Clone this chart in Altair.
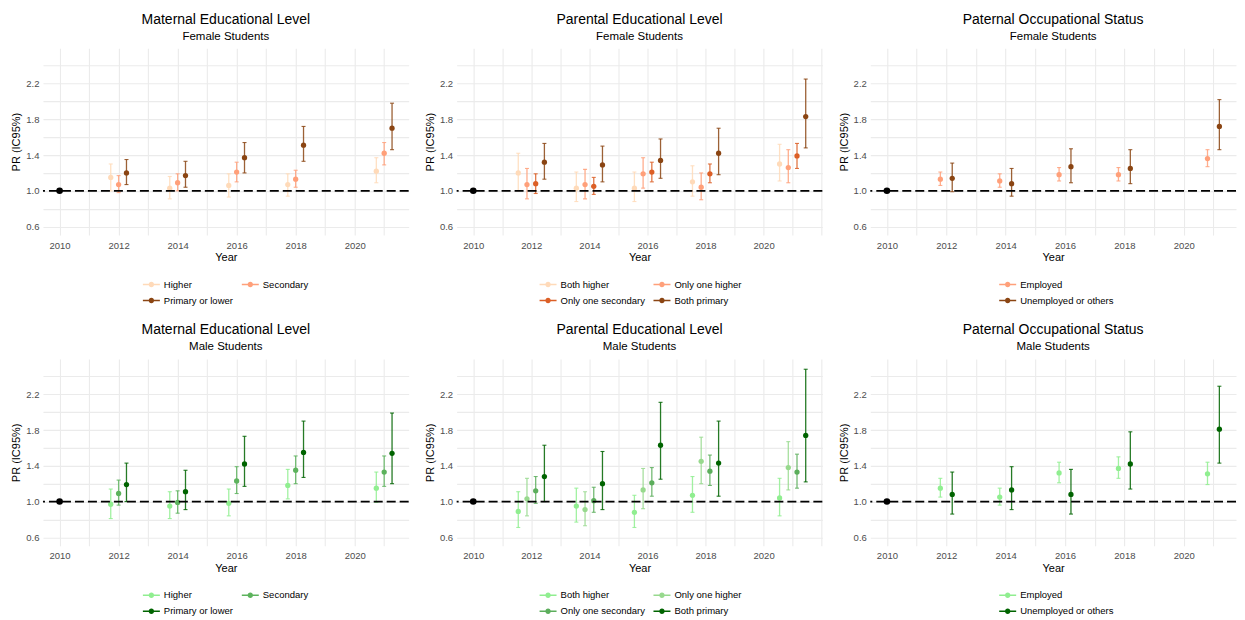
import altair as alt
import pandas as pd

FONT = "Liberation Sans"

YEARS = [2012, 2014, 2016, 2018, 2021]
REF_YEAR = [2010]
REF_PR = [1.0]

Y_GRID = [0.6, 0.8, 1.0, 1.2, 1.4, 1.6, 1.8, 2.0, 2.2, 2.4]

MAT_CATS = ["Higher", "Secondary", "Primary or lower"]
PAR_CATS = ["Both higher", "Only one higher", "Only one secondary", "Both primary"]
OCC_CATS = ["Employed", "Unemployed or others"]

MAT_F_COLORS = ["#FFDAB9", "#FFA07A", "#8B4513"]
PAR_F_COLORS = ["#FFDAB9", "#FFA07A", "#DC5F26", "#8B4513"]
OCC_F_COLORS = ["#FFA07A", "#8B4513"]
MAT_M_COLORS = ["#90EE90", "#5DB35D", "#006400"]
PAR_M_COLORS = ["#90EE90", "#98D98E", "#5CAE5C", "#006400"]
OCC_M_COLORS = ["#90EE90", "#006400"]

# ---------------- Female, maternal education
MF_HIGHER_PR = [1.15, 1.03, 1.06, 1.07, 1.22]
MF_HIGHER_LO = [1.00, 0.91, 0.93, 0.94, 1.09]
MF_HIGHER_HI = [1.30, 1.16, 1.19, 1.19, 1.37]
MF_SEC_PR = [1.07, 1.09, 1.21, 1.13, 1.42]
MF_SEC_LO = [0.98, 1.00, 1.10, 1.04, 1.29]
MF_SEC_HI = [1.17, 1.19, 1.32, 1.23, 1.54]
MF_PRIM_PR = [1.20, 1.17, 1.37, 1.51, 1.70]
MF_PRIM_LO = [1.07, 1.04, 1.20, 1.33, 1.46]
MF_PRIM_HI = [1.35, 1.33, 1.54, 1.72, 1.98]

# ---------------- Female, parental education
PF_BH_PR = [1.20, 1.03, 1.03, 1.10, 1.30]
PF_BH_LO = [1.00, 0.88, 0.88, 0.94, 1.11]
PF_BH_HI = [1.42, 1.21, 1.21, 1.28, 1.52]
PF_OOH_PR = [1.07, 1.07, 1.19, 1.04, 1.26]
PF_OOH_LO = [0.91, 0.91, 1.03, 0.90, 1.09]
PF_OOH_HI = [1.25, 1.24, 1.37, 1.20, 1.46]
PF_OOS_PR = [1.08, 1.05, 1.21, 1.19, 1.39]
PF_OOS_LO = [0.97, 0.96, 1.10, 1.09, 1.25]
PF_OOS_HI = [1.19, 1.15, 1.32, 1.30, 1.53]
PF_BP_PR = [1.32, 1.29, 1.34, 1.42, 1.83]
PF_BP_LO = [1.13, 1.10, 1.14, 1.18, 1.48]
PF_BP_HI = [1.53, 1.50, 1.58, 1.70, 2.25]

# ---------------- Female, paternal occupation
OF_EMP_PR = [1.13, 1.11, 1.18, 1.18, 1.36]
OF_EMP_LO = [1.06, 1.04, 1.11, 1.11, 1.27]
OF_EMP_HI = [1.21, 1.19, 1.26, 1.26, 1.46]
OF_UNE_PR = [1.14, 1.08, 1.27, 1.25, 1.72]
OF_UNE_LO = [0.99, 0.94, 1.09, 1.08, 1.46]
OF_UNE_HI = [1.31, 1.25, 1.47, 1.46, 2.02]

# ---------------- Male, maternal education
MM_HIGHER_PR = [0.97, 0.95, 0.98, 1.18, 1.15]
MM_HIGHER_LO = [0.81, 0.81, 0.84, 1.03, 0.99]
MM_HIGHER_HI = [1.14, 1.11, 1.14, 1.36, 1.33]
MM_SEC_PR = [1.09, 0.99, 1.23, 1.35, 1.33]
MM_SEC_LO = [0.96, 0.87, 1.09, 1.20, 1.17]
MM_SEC_HI = [1.24, 1.12, 1.39, 1.51, 1.51]
MM_PRIM_PR = [1.19, 1.11, 1.42, 1.55, 1.54]
MM_PRIM_LO = [1.00, 0.91, 1.17, 1.27, 1.20]
MM_PRIM_HI = [1.43, 1.35, 1.73, 1.90, 1.99]

# ---------------- Male, parental education
PM_BH_PR = [0.89, 0.95, 0.88, 1.07, 1.04]
PM_BH_LO = [0.71, 0.77, 0.71, 0.88, 0.84]
PM_BH_HI = [1.11, 1.15, 1.07, 1.28, 1.26]
PM_OOH_PR = [1.03, 0.91, 1.13, 1.45, 1.38]
PM_OOH_LO = [0.84, 0.73, 0.92, 1.20, 1.13]
PM_OOH_HI = [1.26, 1.11, 1.37, 1.72, 1.67]
PM_OOS_PR = [1.12, 1.01, 1.21, 1.34, 1.33]
PM_OOS_LO = [0.98, 0.88, 1.06, 1.18, 1.15]
PM_OOS_HI = [1.28, 1.16, 1.38, 1.52, 1.53]
PM_BP_PR = [1.28, 1.20, 1.63, 1.43, 1.74]
PM_BP_LO = [1.00, 0.91, 1.25, 1.06, 1.22]
PM_BP_HI = [1.63, 1.56, 2.11, 1.90, 2.48]

# ---------------- Male, paternal occupation
OM_EMP_PR = [1.15, 1.05, 1.32, 1.37, 1.31]
OM_EMP_LO = [1.05, 0.96, 1.21, 1.26, 1.19]
OM_EMP_HI = [1.26, 1.15, 1.44, 1.50, 1.44]
OM_UNE_PR = [1.08, 1.13, 1.08, 1.42, 1.81]
OM_UNE_LO = [0.86, 0.91, 0.86, 1.14, 1.43]
OM_UNE_HI = [1.33, 1.39, 1.36, 1.78, 2.29]

# dodge spacing (in years) by number of groups
DODGE = {2: 0.4, 3: 0.8 / 3, 4: 0.3}

PANEL_W = 366
PANEL_H = 187
Y_DOMAIN = [0.505, 2.595]

LEGEND_PATH = ("M-1,-0.1H1V0.1H-1Z "
               "M-0.32,0A0.32,0.32,0,1,1,0.32,0A0.32,0.32,0,1,1,-0.32,0Z")


def panel(title, subtitle, cats, series, colors, legend_x, legend_cols):
    n = len(cats)
    step = DODGE[n]
    rows = []
    for i, (cat, (pr, lo, hi)) in enumerate(zip(cats, series)):
        off = (i - (n - 1) / 2) * step
        for yr, p, l, h in zip(YEARS, pr, lo, hi):
            rows.append({"cat": cat, "x": yr + off, "pr": p, "lo": l, "hi": h})
    df = pd.DataFrame(rows)
    xmin = min(REF_YEAR)
    xmax = df["x"].max()
    pad = 0.05 * (xmax - xmin)
    dom = [xmin - pad, xmax + pad]
    x_grid = [v for v in range(2009, 2024) if dom[0] <= v <= dom[1]]

    xaxis = alt.Axis(values=x_grid, format="d", title="Year",
                     labelExpr="datum.value % 2 == 0 && datum.value <= 2020 ? datum.label : ''",
                     domain=False, ticks=False, gridColor="#EBEBEB", gridWidth=1.1,
                     labelColor="#4D4D4D", labelFontSize=9.5, labelPadding=5,
                     titleFontSize=11, titleFontWeight="normal", titleColor="black",
                     titlePadding=2, labelFont=FONT, titleFont=FONT)
    yaxis = alt.Axis(values=Y_GRID, format=".1f", title="PR (IC95%)",
                     labelExpr="round(datum.value * 10) % 4 == 2 ? datum.label : ''",
                     domain=False, ticks=False, gridColor="#EBEBEB", gridWidth=1.1,
                     labelColor="#4D4D4D", labelFontSize=9.5, labelPadding=4,
                     titleFontSize=11, titleFontWeight="normal", titleColor="black",
                     titlePadding=4, labelFont=FONT, titleFont=FONT)
    xs = alt.Scale(domain=dom, nice=False, zero=False)
    ys = alt.Scale(domain=Y_DOMAIN, nice=False, zero=False)
    cscale = alt.Scale(domain=cats, range=colors)

    X = alt.X("x:Q", scale=xs, axis=xaxis)
    legend = alt.Legend(title=None, orient="none", legendX=legend_x, legendY=228,
                        direction="horizontal", columns=legend_cols,
                        symbolType=LEGEND_PATH, symbolSize=289,
                        labelFontSize=9.5, labelColor="black", labelFont=FONT,
                        columnPadding=8, rowPadding=3, symbolStrokeWidth=0,
                        symbolOpacity=1)
    C = alt.Color("cat:N", scale=cscale, legend=legend)

    base = alt.Chart(df)
    pts = base.mark_point(filled=True, size=28, opacity=1).encode(
        x=X, y=alt.Y("pr:Q", scale=ys, axis=yaxis), color=C)
    bars = base.mark_rule(strokeWidth=1.3, opacity=0.85).encode(
        x=X, y=alt.Y("lo:Q", scale=ys, axis=yaxis), y2="hi:Q", color=C)
    cap_lo = base.mark_tick(orient="horizontal", size=4, thickness=1.1, opacity=0.85).encode(
        x=X, y=alt.Y("lo:Q", scale=ys, axis=yaxis), color=C)
    cap_hi = base.mark_tick(orient="horizontal", size=4, thickness=1.1, opacity=0.85).encode(
        x=X, y=alt.Y("hi:Q", scale=ys, axis=yaxis), color=C)

    ref_df = pd.DataFrame({"x": REF_YEAR, "y": REF_PR})
    ref_line = alt.Chart(ref_df).mark_rule(
        strokeDash=[9, 4], color="black", strokeWidth=1.8).encode(
        y=alt.Y("y:Q", scale=ys, axis=yaxis))
    ref_pt = alt.Chart(ref_df).mark_point(
        filled=True, color="black", size=44, opacity=1).encode(
        x=X, y=alt.Y("y:Q", scale=ys, axis=yaxis))

    return alt.layer(pts, bars, cap_lo, cap_hi, ref_line, ref_pt).properties(
        width=PANEL_W, height=PANEL_H,
        title=alt.TitleParams(text=title, subtitle=subtitle, anchor="middle",
                              frame="group", fontSize=14, fontWeight="normal",
                              color="black", font=FONT, subtitleFont=FONT,
                              subtitleFontSize=11.5, subtitleColor="black",
                              subtitlePadding=4, offset=6))


row_f = alt.hconcat(
    panel("Maternal Educational Level", "Female Students", MAT_CATS,
          [(MF_HIGHER_PR, MF_HIGHER_LO, MF_HIGHER_HI),
           (MF_SEC_PR, MF_SEC_LO, MF_SEC_HI),
           (MF_PRIM_PR, MF_PRIM_LO, MF_PRIM_HI)], MAT_F_COLORS, 100, 2),
    panel("Parental Educational Level", "Female Students", PAR_CATS,
          [(PF_BH_PR, PF_BH_LO, PF_BH_HI),
           (PF_OOH_PR, PF_OOH_LO, PF_OOH_HI),
           (PF_OOS_PR, PF_OOS_LO, PF_OOS_HI),
           (PF_BP_PR, PF_BP_LO, PF_BP_HI)], PAR_F_COLORS, 83, 2),
    panel("Paternal Occupational Status", "Female Students", OCC_CATS,
          [(OF_EMP_PR, OF_EMP_LO, OF_EMP_HI),
           (OF_UNE_PR, OF_UNE_LO, OF_UNE_HI)], OCC_F_COLORS, 129, 1),
    spacing=14,
).resolve_scale(color="independent", x="independent").resolve_legend(color="independent")

row_m = alt.hconcat(
    panel("Maternal Educational Level", "Male Students", MAT_CATS,
          [(MM_HIGHER_PR, MM_HIGHER_LO, MM_HIGHER_HI),
           (MM_SEC_PR, MM_SEC_LO, MM_SEC_HI),
           (MM_PRIM_PR, MM_PRIM_LO, MM_PRIM_HI)], MAT_M_COLORS, 100, 2),
    panel("Parental Educational Level", "Male Students", PAR_CATS,
          [(PM_BH_PR, PM_BH_LO, PM_BH_HI),
           (PM_OOH_PR, PM_OOH_LO, PM_OOH_HI),
           (PM_OOS_PR, PM_OOS_LO, PM_OOS_HI),
           (PM_BP_PR, PM_BP_LO, PM_BP_HI)], PAR_M_COLORS, 83, 2),
    panel("Paternal Occupational Status", "Male Students", OCC_CATS,
          [(OM_EMP_PR, OM_EMP_LO, OM_EMP_HI),
           (OM_UNE_PR, OM_UNE_LO, OM_UNE_HI)], OCC_M_COLORS, 129, 1),
    spacing=14,
).resolve_scale(color="independent", x="independent").resolve_legend(color="independent")

chart = alt.vconcat(row_f, row_m, spacing=18).resolve_scale(
    color="independent", x="independent").resolve_legend(color="independent").properties(
    padding={"left": 2, "top": 4, "right": 0, "bottom": 0}
).configure(font=FONT, background="white").configure_view(strokeWidth=0, stroke="transparent")

chart.save("out.html", embed_options={"renderer": "svg", "actions": False})
